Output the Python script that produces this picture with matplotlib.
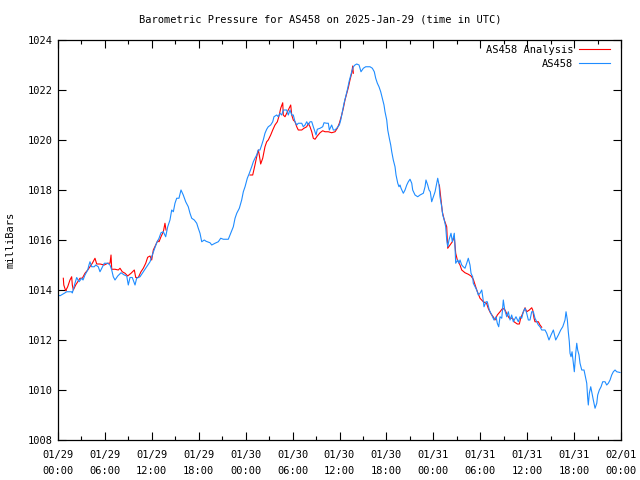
import numpy as np
import matplotlib
matplotlib.use("Agg")
import matplotlib.pyplot as plt
from matplotlib.ticker import MultipleLocator

# hours since 2025-01-29 00:00 UTC
obs_hours = [0.0, 0.26, 0.81, 1.11, 1.75, 1.83, 2.17, 2.39, 2.69, 3.03, 3.20, 3.45, 3.80, 3.96, 4.09, 4.31,
             4.64, 4.82, 5.15, 5.37, 5.59, 5.92, 6.36, 6.65, 6.87, 7.07, 7.29, 7.64, 8.06, 8.48, 8.79, 8.99,
             9.21, 9.50, 9.85, 10.06, 10.49, 10.91, 11.34, 11.77, 11.98, 12.32, 12.62, 12.92, 13.17, 13.47,
             13.77, 14.03, 14.32, 14.54, 14.75, 14.96, 15.18, 15.47, 15.73, 16.02, 16.33, 16.66, 16.88, 17.10,
             17.43, 17.74, 17.94, 18.16, 18.38, 18.71, 18.93, 19.44, 19.66, 20.08, 20.50, 20.81, 21.14, 21.78,
             22.09, 22.42, 22.64, 22.86, 23.19, 23.49, 23.70, 23.92, 24.21, 24.47, 24.77, 24.98, 25.19, 25.41,
             25.62, 25.83, 26.05, 26.25, 26.47, 26.69, 26.89, 27.20, 27.46, 27.62, 27.97, 28.17, 28.39, 28.61,
             28.81, 29.25, 29.45, 29.67, 29.89, 30.09, 30.31, 30.53, 30.73, 31.17, 31.37, 31.59, 31.81, 32.01,
             32.23, 32.45, 32.65, 32.87, 33.00, 33.16, 33.51, 33.85, 34.02, 34.36, 34.57, 34.70, 35.00, 35.21,
             35.43, 35.64, 35.98, 36.16, 36.41, 36.58, 36.79, 37.00, 37.25, 37.56, 37.77, 37.98, 38.20, 38.50,
             38.75, 39.05, 39.35, 39.90, 40.20, 40.45, 40.63, 40.84, 41.05, 41.27, 41.48, 41.69, 41.82, 42.04,
             42.17, 42.37, 42.55, 42.68, 42.88, 43.10, 43.23, 43.45, 43.61, 43.74, 43.87, 44.16, 44.38, 44.60,
             44.80, 45.02, 45.24, 45.36, 45.66, 46.00, 46.30, 46.72, 46.94, 47.06, 47.28, 47.45, 47.61, 47.79,
             48.00, 48.22, 48.43, 48.56, 48.73, 48.85, 49.07, 49.20, 49.40, 49.58, 49.71, 49.84, 50.00, 50.26,
             50.43, 50.68, 50.77, 50.86, 51.12, 51.28, 51.41, 51.63, 51.83, 52.05, 52.27, 52.47, 52.69, 52.82,
             53.03, 53.11, 53.55, 53.75, 53.97, 54.19, 54.32, 54.48, 54.74, 54.90, 55.16, 55.47, 55.76, 56.02,
             56.18, 56.36, 56.53, 56.75, 56.95, 57.13, 57.39, 57.59, 57.81, 58.02, 58.23, 58.57, 58.87, 59.09,
             59.30, 59.51, 59.73, 59.94, 60.15, 60.36, 60.58, 60.79, 61.00, 61.22, 61.43, 61.64, 61.86, 62.28,
             62.50, 62.79, 63.05, 63.35, 63.65, 63.99, 64.29, 64.55, 64.84, 64.97, 65.14, 65.26, 65.39, 65.48,
             65.61, 65.74, 65.90, 66.03, 66.21, 66.34, 66.46, 66.63, 66.76, 66.98, 67.27, 67.40, 67.62, 67.74,
             67.82, 67.95, 68.13, 68.29, 68.46, 68.68, 68.90, 69.02, 69.23, 69.45, 69.66, 69.96, 70.17, 70.38,
             70.60, 70.81, 71.02, 71.24, 71.45, 71.87]
obs_mb = [1013.80, 1013.77, 1013.87, 1013.93, 1013.93, 1013.88, 1014.27, 1014.50, 1014.33, 1014.47, 1014.40,
          1014.60, 1014.80, 1015.00, 1015.13, 1014.93, 1014.93, 1015.00, 1014.93, 1014.73, 1014.87, 1015.07,
          1015.07, 1015.00, 1014.80, 1014.53, 1014.40, 1014.56, 1014.69, 1014.60, 1014.56, 1014.20, 1014.50,
          1014.50, 1014.20, 1014.47, 1014.53, 1014.73, 1014.93, 1015.13, 1015.33, 1015.63, 1015.89, 1016.07,
          1016.29, 1016.33, 1016.13, 1016.53, 1016.80, 1017.20, 1017.13, 1017.47, 1017.67, 1017.67, 1018.00,
          1017.80, 1017.53, 1017.33, 1017.07, 1016.87, 1016.80, 1016.67, 1016.47, 1016.27, 1015.93, 1016.00,
          1015.95, 1015.89, 1015.80, 1015.87, 1015.93, 1016.07, 1016.03, 1016.03, 1016.27, 1016.53, 1016.87,
          1017.07, 1017.27, 1017.60, 1017.93, 1018.13, 1018.47, 1018.67, 1018.93, 1019.13, 1019.27, 1019.40,
          1019.60, 1019.60, 1019.80, 1020.00, 1020.27, 1020.43, 1020.53, 1020.60, 1020.73, 1020.93, 1021.00,
          1020.93, 1021.07, 1021.00, 1021.20, 1021.20, 1021.00, 1021.20, 1021.00, 1021.00, 1020.73, 1020.60,
          1020.67, 1020.67, 1020.53, 1020.60, 1020.73, 1020.60, 1020.73, 1020.73, 1020.53, 1020.33, 1020.20,
          1020.43, 1020.47, 1020.53, 1020.69, 1020.67, 1020.67, 1020.40, 1020.60, 1020.40, 1020.40, 1020.47,
          1020.60, 1020.80, 1021.20, 1021.47, 1021.73, 1022.00, 1022.37, 1022.73, 1022.93, 1023.00, 1023.04,
          1023.00, 1022.73, 1022.87, 1022.93, 1022.93, 1022.87, 1022.73, 1022.47, 1022.27, 1022.13, 1021.93,
          1021.67, 1021.40, 1021.13, 1020.80, 1020.40, 1020.07, 1019.80, 1019.53, 1019.20, 1018.93, 1018.60,
          1018.27, 1018.13, 1018.20, 1018.07, 1017.87, 1018.00, 1018.20, 1018.33, 1018.43, 1018.27, 1018.00,
          1017.80, 1017.73, 1017.80, 1017.87, 1018.13, 1018.40, 1018.20, 1018.00, 1017.93, 1017.53, 1017.73,
          1017.93, 1018.27, 1018.47, 1018.20, 1017.73, 1017.33, 1017.00, 1016.80, 1016.53, 1016.00, 1015.73,
          1016.00, 1016.27, 1015.93, 1016.27, 1015.73, 1015.07, 1015.20, 1015.07, 1015.20, 1015.00, 1014.93,
          1014.87, 1015.07, 1015.27, 1015.00, 1014.67, 1014.53, 1014.27, 1014.00, 1013.80, 1013.87, 1014.00,
          1013.73, 1013.33, 1013.53, 1013.53, 1013.20, 1013.00, 1012.80, 1012.93, 1012.67, 1012.53, 1012.93,
          1012.87, 1013.60, 1013.20, 1012.93, 1013.13, 1012.80, 1013.00, 1012.73, 1012.93, 1012.73, 1012.93,
          1012.87, 1013.13, 1013.27, 1013.07, 1012.80, 1012.80, 1013.13, 1013.13, 1012.87, 1012.73, 1012.60,
          1012.53, 1012.40, 1012.40, 1012.27, 1012.00, 1012.20, 1012.40, 1012.00, 1012.20, 1012.40, 1012.53,
          1012.80, 1013.13, 1012.80, 1012.33, 1011.93, 1011.47, 1011.33, 1011.53, 1011.07, 1010.73, 1011.47,
          1011.87, 1011.60, 1011.40, 1011.07, 1010.80, 1010.80, 1010.60, 1010.27, 1009.67, 1009.40, 1009.87,
          1010.13, 1009.87, 1009.60, 1009.27, 1009.47, 1009.80, 1010.00, 1010.13, 1010.33, 1010.33, 1010.20,
          1010.27, 1010.40, 1010.60, 1010.73, 1010.80, 1010.73, 1010.70]

nan = float("nan")
ana_hours = [0.68, 0.74, 0.98, 1.24, 1.53, 1.75, 1.83, 1.96, 2.26, 2.52, 2.81, 3.11, 3.45, 3.80, 4.09, 4.39,
             4.73, 4.95, 5.37, 5.92, 6.36, 6.65, 6.78, 6.87, 7.29, 7.71, 7.93, 8.22, 8.57, 8.91, 9.34, 9.76,
             9.94, 10.27, 10.61, 10.91, 11.22, 11.47, 11.77, 11.98, 12.19, 12.49, 12.75, 12.92, 13.17, 13.47,
             13.68, 13.81, 19.0,
             24.55, 24.90, 25.19, 25.41, 25.62, 25.74, 25.92, 26.18, 26.47, 26.69, 26.89, 27.20, 27.46, 27.75,
             28.05, 28.30, 28.48, 28.74, 28.81, 29.03, 29.25, 29.45, 29.76, 29.89, 30.09, 30.31, 30.53, 30.73,
             31.17, 31.46, 31.81, 32.01, 32.23, 32.45, 32.65, 32.87, 33.16, 33.51, 33.85, 34.15, 34.57, 35.00,
             35.43, 35.72, 35.98, 36.28, 36.49, 36.70, 36.92, 37.13, 37.34, 37.56, 37.69, 37.77, 43.0,
             48.77, 48.94, 49.15, 49.40, 49.71, 49.84, 50.13, 50.43, 50.68, 50.86, 51.07, 51.41, 51.63, 52.05,
             52.47, 52.82, 53.11, 53.55, 53.97, 54.39, 54.81, 55.02, 55.32, 55.65, 55.89, 56.18, 56.53, 56.87,
             57.17, 57.46, 57.72, 58.15, 58.32, 58.74, 59.00, 59.17, 59.43, 59.73, 59.94, 60.28, 60.58, 60.71,
             60.88, 61.00, 61.43, 61.64, 61.86]
ana_mb = [1014.47, 1014.20, 1013.97, 1014.13, 1014.40, 1014.53, 1014.20, 1014.00, 1014.20, 1014.33, 1014.47,
          1014.47, 1014.67, 1014.80, 1014.93, 1015.07, 1015.27, 1015.04, 1015.04, 1015.00, 1015.07, 1015.07,
          1015.40, 1014.83, 1014.83, 1014.80, 1014.87, 1014.73, 1014.67, 1014.56, 1014.67, 1014.80, 1014.50,
          1014.50, 1014.73, 1014.87, 1015.07, 1015.31, 1015.36, 1015.20, 1015.60, 1015.80, 1015.97, 1015.93,
          1016.13, 1016.33, 1016.67, 1016.40, nan,
          1018.60, 1018.60, 1019.00, 1019.33, 1019.60, 1019.40, 1019.04, 1019.27, 1019.73, 1019.93, 1020.00,
          1020.20, 1020.40, 1020.60, 1020.73, 1021.00, 1021.27, 1021.49, 1021.00, 1020.93, 1021.07, 1021.20,
          1021.40, 1021.00, 1020.80, 1020.73, 1020.53, 1020.40, 1020.40, 1020.47, 1020.53, 1020.67, 1020.53,
          1020.33, 1020.07, 1020.03, 1020.16, 1020.29, 1020.37, 1020.33, 1020.33, 1020.29, 1020.33, 1020.47,
          1020.67, 1021.00, 1021.27, 1021.60, 1021.85, 1022.10, 1022.40, 1022.67, 1022.96, 1022.67, nan,
          1018.20, 1017.73, 1017.13, 1016.80, 1016.53, 1015.67, 1015.80, 1015.93, 1016.13, 1015.47, 1015.20,
          1015.00, 1014.80, 1014.69, 1014.63, 1014.56, 1014.43, 1014.00, 1013.67, 1013.53, 1013.47, 1013.27,
          1013.07, 1012.93, 1012.80, 1013.00, 1013.13, 1013.27, 1013.20, 1013.00, 1012.87, 1012.87, 1012.73,
          1012.64, 1012.64, 1012.87, 1013.07, 1013.29, 1013.13, 1013.20, 1013.29, 1013.20, 1012.87, 1012.73,
          1012.73, 1012.60, 1012.51]

tick_hours = list(range(0, 73, 6))
tick_labels = ["01/29\n00:00", "01/29\n06:00", "01/29\n12:00", "01/29\n18:00",
               "01/30\n00:00", "01/30\n06:00", "01/30\n12:00", "01/30\n18:00",
               "01/31\n00:00", "01/31\n06:00", "01/31\n12:00", "01/31\n18:00",
               "02/01\n00:00"]

FONT = "DejaVu Sans Mono"
plt.rcParams["font.family"] = FONT
plt.rcParams["font.size"] = 7.5

fig = plt.figure(figsize=(6.4, 4.8), dpi=100)
ax = fig.add_axes([58 / 640, 1 - 440 / 480, (621 - 58) / 640, 400 / 480])

ax.plot(ana_hours, ana_mb, color="#ff0000", lw=0.8, label="AS458 Analysis")
ax.plot(obs_hours, obs_mb, color="#1e8cff", lw=0.8, label="AS458")

ax.set_xlim(0, 72)
ax.set_ylim(1008, 1024)
ax.set_xticks(tick_hours)
ax.set_xticklabels(tick_labels, linespacing=1.8)
ax.xaxis.set_minor_locator(MultipleLocator(3))
ax.yaxis.set_major_locator(MultipleLocator(2))
ax.tick_params(which="both", direction="in", top=True, right=True, colors="black",
               labelsize=7.5)
ax.tick_params(axis="x", pad=7)
ax.tick_params(axis="y", pad=4)
ax.tick_params(which="major", length=6, width=0.8)
ax.tick_params(which="minor", length=3, width=0.8)
for s in ax.spines.values():
    s.set_linewidth(0.9)

ax.set_ylabel("milliBars")
ax.yaxis.set_label_coords(-0.075, 0.5)
fig.text(0.5, 1 - 19 / 480, "Barometric Pressure for AS458 on 2025-Jan-29 (time in UTC)",
         ha="center", va="center", fontsize=7.5)

leg = ax.legend(loc="upper right", bbox_to_anchor=((610 - 58) / 563, 1 - 5 / 400),
                frameon=False, fontsize=7.5, markerfirst=False,
                handlelength=3.0, handletextpad=0.5, borderaxespad=0.0, borderpad=0.0,
                labelspacing=0.35)
for t in leg.get_texts():
    t.set_ha("right")

fig.savefig("out.png", dpi=100)
